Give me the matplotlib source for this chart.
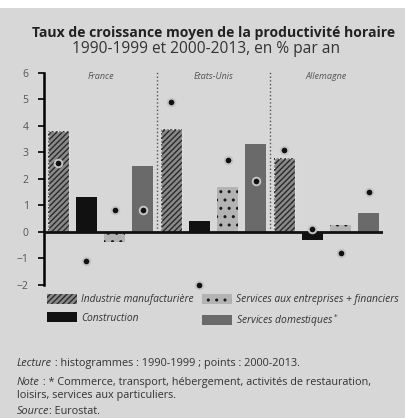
import numpy as np
import matplotlib.pyplot as plt
from matplotlib.patches import Patch, Rectangle

# 1990-1999 (bars) and 2000-2013 (points), % per year
countries = ["France", "Etats-Unis", "Allemagne"]
sectors = ["Industrie manufacturière", "Construction",
           "Services aux entreprises + financiers", "Services domestiques$^*$"]

industrie_9099 = [3.8, 3.9, 2.8]
construction_9099 = [1.3, 0.4, -0.3]
serv_ent_9099 = [-0.4, 1.7, 0.25]
serv_dom_9099 = [2.5, 3.3, 0.7]

industrie_0013 = [2.6, 4.9, 3.1]
construction_0013 = [-1.1, -2.0, 0.1]
serv_ent_0013 = [0.8, 2.7, -0.8]
serv_dom_0013 = [0.8, 1.9, 1.5]

yticks = [-2, -1, 0, 1, 2, 3, 4, 5, 6]

bars = [industrie_9099, construction_9099, serv_ent_9099, serv_dom_9099]
points = [industrie_0013, construction_0013, serv_ent_0013, serv_dom_0013]

bg = "#d7d7d7"
styles = [
    dict(facecolor="#8a8a8a", edgecolor="#2a2a2a", hatch="//////", linewidth=0),
    dict(facecolor="#111111", edgecolor="#111111", linewidth=0),
    dict(facecolor="#b3b3b3", edgecolor="#1a1a1a", hatch="..", linewidth=0),
    dict(facecolor="#6a6a6a", edgecolor="#6a6a6a", linewidth=0),
]

plt.rcParams["font.family"] = ["Open Sans", "DejaVu Sans"]
plt.rcParams["hatch.linewidth"] = 1.0

fig = plt.figure(figsize=(4.05, 4.18), dpi=100, facecolor=bg)
fig.patches.append(Rectangle((0, 1 - 8 / 418), 1, 8 / 418, transform=fig.transFigure,
                             facecolor="white", edgecolor="none", zorder=0))

ax = fig.add_axes([44 / 405, (418 - 288.5) / 418, (383 - 44) / 405, (288.5 - 69) / 418])
ax.set_facecolor(bg)

n = len(countries)
width = 0.74
for s in range(4):
    x = np.arange(n) * 4 + s
    ax.bar(x, bars[s], width=width, zorder=2, **styles[s])
    if s == 0:
        ax.bar(x, bars[s], width=width, fill=False, edgecolor="#e6e6e6",
               linestyle=":", linewidth=1.0, zorder=3)
    ax.scatter(x, points[s], s=30, c="#111111", edgecolors="#c4c4c4",
               linewidths=1.4, zorder=5)

ax.vlines([3.5, 7.5], 0, 6.1, colors="#555555", linestyles=":", linewidth=1.0, zorder=1)
ax.axhline(0, color="#111111", linewidth=2, zorder=4)

for g, name in enumerate(countries):
    ax.text(g * 4 + 1.5, 5.87, name, ha="center", va="center", fontsize=6.5,
            style="italic", color="#555555")

ax.set_xlim(-0.5, 11.5)
ax.set_ylim(-2.15, 6.15)
ax.set_xticks([])
ax.set_yticks(yticks)
ax.tick_params(axis="y", direction="out", length=4, width=1.2, pad=7,
               labelsize=7.5, labelcolor="#555555")
for side in ["top", "right", "bottom"]:
    ax.spines[side].set_visible(False)
ax.spines["left"].set_bounds(-2, 6)
ax.spines["left"].set_linewidth(1.8)

handles = [Patch(**styles[s]) for s in range(4)]
for col in range(2):
    fig.legend(handles[col * 2:col * 2 + 2], sectors[col * 2:col * 2 + 2],
               loc="upper left", bbox_to_anchor=([47, 202][col] / 405, 1 - 294 / 418),
               frameon=False, borderpad=0, borderaxespad=0, handlelength=2.9,
               handleheight=1.1, handletextpad=0.4, labelspacing=0.65,
               prop=dict(size=7.4, style="italic"), labelcolor="#333333")

fig.text(0.527, 1 - 33 / 418, "Taux de croissance moyen de la productivité horaire",
         ha="center", va="center", fontsize=10.1, fontweight="bold", color="#222222")
fig.text(0.51, 1 - 49 / 418, "1990-1999 et 2000-2013, en % par an",
         ha="center", va="center", fontsize=11.2, color="#333333")


def note_line(y, first, rest):
    t = fig.text(17 / 405, 1 - y / 418, first, ha="left", va="baseline",
                 fontsize=7.8, style="italic", color="#333333")
    ax.annotate(rest, xy=(1, 0), xycoords=t, ha="left", va="bottom",
                fontsize=7.8, color="#333333", annotation_clip=False)


note_line(366, "Lecture", " : histogrammes : 1990-1999 ; points : 2000-2013.")
note_line(385, "Note", " : * Commerce, transport, hébergement, activités de restauration,")
fig.text(17 / 405, 1 - 398 / 418, "loisirs, services aux particuliers.", ha="left",
         va="baseline", fontsize=7.8, color="#333333")
note_line(414, "Source", ": Eurostat.")

fig.savefig("out.png", dpi=100, facecolor=bg)
